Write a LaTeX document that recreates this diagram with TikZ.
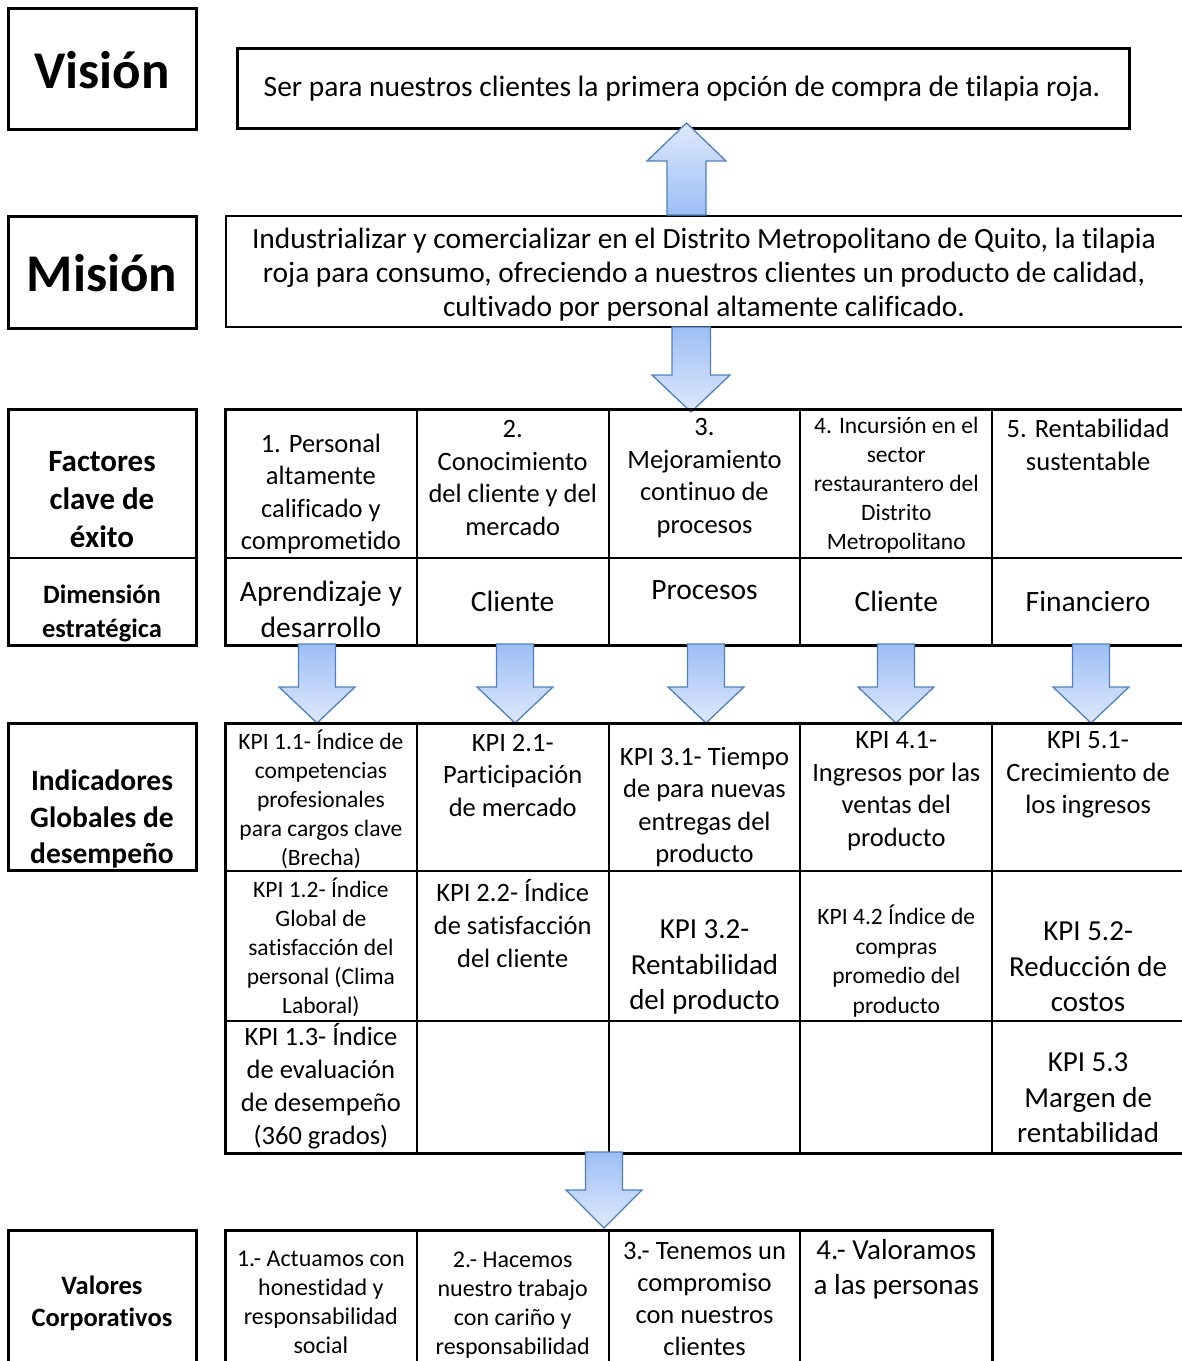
\documentclass[tikz,border=0pt]{standalone}
\usepackage{fontspec}
\setmainfont{Carlito}[Ligatures={TeX,NoCommon}]
\usetikzlibrary{positioning}
\definecolor{arrowline}{RGB}{79,129,189}
\definecolor{arrowdark}{RGB}{157,190,245}
\definecolor{arrowlight}{RGB}{222,233,252}

\begin{document}
\begin{tikzpicture}[
    x=1pt, y=-1pt,
    % Styles
    box/.style={draw, line width=3pt},
    grid/.style={line width=2pt},
    lbl/.style 2 args={font=\fontsize{#1}{#2}\selectfont\bfseries, align=center, inner sep=0pt},
    txt/.style 2 args={font=\fontsize{#1}{#2}\selectfont, align=center, inner sep=0pt},
    arrowdown/.style={draw=arrowline, line width=1.3pt, line join=miter, top color=arrowdark, bottom color=arrowlight},
    arrowup/.style={draw=arrowline, line width=1.3pt, line join=miter, top color=arrowlight, bottom color=arrowdark},
]
\useasboundingbox (0,0) rectangle (1182,1361);

% ============================================================================
% VISION
% ============================================================================
\draw[box] (8,8) rectangle (196,129);
\node[lbl={53}{60}] (visionLbl) at (102,70) {Visión};
\draw[box] (237,48) rectangle (1129,128);
\node[txt={29.5}{34}] (visionTxt) at (682,89) {Ser para nuestros clientes la primera opción de compra de tilapia roja.};

% ============================================================================
% MISION
% ============================================================================
\draw[box] (8,216) rectangle (196,328);
\node[lbl={53}{60}] (misionLbl) at (102,273) {Misión};
\draw[grid] (226,216) rectangle (1190,327);
\node[txt={29.4}{34}] (misionTxt) at (704,275) {Industrializar y comercializar en el Distrito Metropolitano de Quito, la tilapia\\roja para consumo, ofreciendo a nuestros clientes un producto de calidad,\\cultivado por personal altamente calificado.};

% Mision -> Vision
\draw[arrowup] (667,215) -- (667,161) -- (647,161) -- (686.5,123) -- (726,161) -- (706,161) -- (706,215) -- cycle;
% Mision -> Factores
\draw[arrowdown] (672,327) -- (710.5,327) -- (710.5,375) -- (730,375) -- (691,412) -- (652,375) -- (672,375) -- cycle;

% ============================================================================
% FACTORES CLAVE / DIMENSION
% ============================================================================
\draw[box] (8,409) rectangle (196,645);
\draw[grid] (8,558) -- (196,558);
\node[lbl={31}{38}] (factLbl) at (102,500) {Factores\\clave de\\éxito};
\node[lbl={26.5}{34}] (dimLbl) at (102,613) {Dimensión\\estratégica};

\draw[box] (225,409) rectangle (1190,645);
\draw[grid] (225,558) -- (1190,558);
\foreach \x in {416.8, 608.6, 800.4, 992.2} {
    \draw[grid] (\x,409) -- (\x,645);
}

\node[txt={26.5}{32.5}] (f1) at (320.9,494) {1. Personal\\altamente\\calificado y\\comprometido};
\node[txt={26.5}{32.5}] (f2) at (512.7,478) {2.\\Conocimiento\\del cliente y del\\mercado};
\node[txt={26.5}{32.5}] (f3) at (704.5,478) {3.\\Mejoramiento\\continuo de\\procesos};
\node[txt={23.5}{29}] (f4) at (896.3,485) {4. Incursión en el\\sector\\restaurantero del\\Distrito\\Metropolitano};
\node[txt={26.5}{33}] (f5) at (1088.1,445) {5. Rentabilidad\\sustentable};

\node[txt={29.5}{36}] (d1) at (320.9,609) {Aprendizaje y\\desarrollo};
\node[txt={29.5}{36}] (d2) at (512.7,601) {Cliente};
\node[txt={29.5}{36}] (d3) at (704.5,590) {Procesos};
\node[txt={29.5}{36}] (d4) at (896.3,601) {Cliente};
\node[txt={29.5}{36}] (d5) at (1088.1,601) {Financiero};

% Dimension -> KPI arrows
\foreach \cx in {317, 515, 706, 896, 1091} {
    \draw[arrowdown] (\cx-18.5,644) -- (\cx+18.5,644) -- (\cx+18.5,687) -- (\cx+38,687) -- (\cx,723) -- (\cx-38,687) -- (\cx-18.5,687) -- cycle;
}

% ============================================================================
% INDICADORES GLOBALES
% ============================================================================
\draw[box] (8,723) rectangle (196,870);
\node[lbl={29.5}{36.5}] (kpiLbl) at (102,819) {Indicadores\\Globales de\\desempeño};

\draw[box] (225,723) rectangle (1190,1153);
\draw[grid] (225,871) -- (1190,871);
\draw[grid] (225,1021) -- (1190,1021);
\foreach \x in {416.8, 608.6, 800.4, 992.2} {
    \draw[grid] (\x,723) -- (\x,1153);
}

\node[txt={23.5}{29}] (k11) at (320.9,799) {KPI 1.1- Índice de\\competencias\\profesionales\\para cargos clave\\(Brecha)};
\node[txt={26.5}{32.5}] (k21) at (512.7,775) {KPI 2.1-\\Participación\\de mercado};
\node[txt={26.5}{32.5}] (k31) at (704.5,807) {KPI 3.1- Tiempo\\de para nuevas\\entregas del\\producto};
\node[txt={26.5}{32.5}] (k41) at (896.3,791) {KPI 4.1-\\Ingresos por las\\ventas del\\producto};
\node[txt={26.5}{32.5}] (k51) at (1088.1,775) {KPI 5.1-\\Crecimiento de\\los ingresos};

\node[txt={23.5}{29}] (k12) at (320.9,947) {KPI 1.2- Índice\\Global de\\satisfacción del\\personal (Clima\\Laboral)};
\node[txt={26.5}{33}] (k22) at (512.7,924) {KPI 2.2- Índice\\de satisfacción\\del cliente};
\node[txt={29}{35.5}] (k32) at (704.5,967) {KPI 3.2-\\Rentabilidad\\del producto};
\node[txt={23.5}{29.5}] (k42) at (896.3,961) {KPI 4.2 Índice de\\compras\\promedio del\\producto};
\node[txt={29}{35.5}] (k52) at (1088.1,967) {KPI 5.2-\\Reducción de\\costos};

\node[txt={26.5}{33}] (k13) at (320.9,1086) {KPI 1.3- Índice\\de evaluación\\de desempeño\\(360 grados)};
\node[txt={29}{35.5}] (k53) at (1088.1,1098) {KPI 5.3\\Margen de\\rentabilidad};

% KPI -> Valores
\draw[arrowdown] (585.5,1152) -- (622.5,1152) -- (622.5,1190) -- (642,1190) -- (604,1228) -- (566,1190) -- (585.5,1190) -- cycle;

% ============================================================================
% VALORES CORPORATIVOS
% ============================================================================
\draw[box] (8,1230) rectangle (196,1375);
\node[lbl={26.5}{32}] (valLbl) at (102,1303) {Valores\\Corporativos};

\draw[box] (225,1230) rectangle (992.2,1375);
\foreach \x in {416.8, 608.6, 800.4} {
    \draw[grid] (\x,1230) -- (\x,1375);
}

\node[txt={24}{29}] (v1) at (320.9,1302) {1.- Actuamos con\\honestidad y\\responsabilidad\\social};
\node[txt={24}{29}] (v2) at (512.7,1305) {2.- Hacemos\\nuestro trabajo\\con cariño y\\responsabilidad};
\node[txt={26.5}{32}] (v3) at (704.5,1299) {3.- Tenemos un\\compromiso\\con nuestros\\clientes};
\node[txt={29}{35}] (v4) at (896.3,1269) {4.- Valoramos\\a las personas};

\end{tikzpicture}
\end{document}
